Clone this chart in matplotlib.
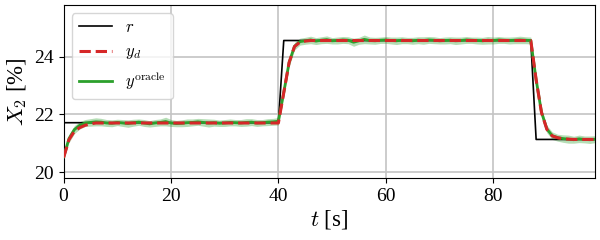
import numpy as np
import matplotlib.pyplot as plt

plt.rcParams['font.family'] = ['Liberation Serif', 'DejaVu Serif']
plt.rcParams['mathtext.fontset'] = 'cm'

# time in seconds (1 s sampling)
t = np.arange(100)

# reference r
r = [21.71] * 41 + [24.56] * 47 + [21.13] * 12

# desired output y_d
y_d = ([20.50, 21.12, 21.41, 21.54, 21.62, 21.67] + [21.70] * 35
       + [22.75, 23.80, 24.35, 24.50, 24.54, 24.56, 24.56] + [24.56] * 40
       + [23.20, 22.06, 21.48, 21.25, 21.19, 21.15, 21.14] + [21.13] * 5)

# oracle output (mean)
y_or = [20.52, 21.16, 21.47, 21.62, 21.70, 21.72,
        21.74, 21.73, 21.70, 21.69, 21.72,
        21.70, 21.68, 21.71, 21.73, 21.70,
        21.67, 21.70, 21.72, 21.75, 21.70,
        21.68, 21.69, 21.71, 21.72, 21.74,
        21.72, 21.70, 21.71, 21.69, 21.70,
        21.72, 21.71, 21.70, 21.72, 21.73,
        21.70, 21.71, 21.73, 21.74, 21.76,
        22.76, 23.80, 24.36, 24.52, 24.55, 24.58, 24.54,
        24.57, 24.59, 24.55, 24.56, 24.58,
        24.57, 24.50, 24.55, 24.60, 24.56,
        24.55, 24.57, 24.58, 24.56, 24.55,
        24.57, 24.56, 24.55, 24.57, 24.56,
        24.58, 24.57, 24.55, 24.56, 24.57,
        24.55, 24.56, 24.58, 24.57, 24.56,
        24.55, 24.57, 24.56, 24.58, 24.57,
        24.56, 24.57, 24.58, 24.57, 24.56,
        23.20, 22.07, 21.49, 21.26, 21.19, 21.16, 21.14,
        21.12, 21.15, 21.13, 21.12, 21.14]

# oracle spread (half width of shaded band)
y_sd = [0.12, 0.14, 0.14, 0.13, 0.12, 0.13,
        0.14, 0.13, 0.12, 0.12, 0.11,
        0.12, 0.13, 0.12, 0.11, 0.12,
        0.11, 0.12, 0.12, 0.15, 0.12,
        0.11, 0.12, 0.13, 0.12, 0.12,
        0.13, 0.14, 0.12, 0.11, 0.12,
        0.12, 0.11, 0.12, 0.13, 0.12,
        0.12, 0.11, 0.12, 0.12, 0.13,
        0.14, 0.14, 0.13, 0.12, 0.12, 0.13, 0.12,
        0.12, 0.13, 0.11, 0.12, 0.12,
        0.12, 0.14, 0.12, 0.15, 0.12,
        0.12, 0.11, 0.12, 0.12, 0.13,
        0.12, 0.11, 0.12, 0.12, 0.13,
        0.12, 0.12, 0.11, 0.12, 0.12,
        0.13, 0.12, 0.12, 0.11, 0.12,
        0.12, 0.13, 0.12, 0.12, 0.11,
        0.12, 0.12, 0.13, 0.12, 0.12,
        0.14, 0.14, 0.13, 0.13, 0.12, 0.13, 0.14,
        0.12, 0.13, 0.12, 0.13, 0.12]

y_or = np.array(y_or)
y_sd = np.array(y_sd)

fig = plt.figure(figsize=(6, 2.4), dpi=100)
ax = fig.add_axes([0.106, 0.258, 0.886, 0.721])

ax.plot(t, r, color='black', lw=1.2, label='$r$', zorder=3)
ax.fill_between(t, y_or - y_sd, y_or + y_sd, color='tab:green', alpha=0.35, lw=0, zorder=2)
ax.plot(t, y_or, color='tab:green', lw=2, label=r'$y^{\mathrm{oracle}}$', zorder=4)
ax.plot(t, y_d, color='tab:red', lw=2.2, ls='--', label='$y_d$', zorder=5)

ax.set_xlim(0, 99)
ax.set_ylim(19.79, 25.79)
ax.set_xticks([0, 20, 40, 60, 80])
ax.set_yticks([20, 22, 24])
ax.tick_params(labelsize=14)
ax.grid(True, color='#c4c4c4', lw=1.2)
ax.set_axisbelow(True)

ax.set_xlabel('$t$ [s]', fontsize=16.5, labelpad=2)
ax.set_ylabel('$X_2$ [%]', fontsize=16.5, labelpad=4)

h, l = ax.get_legend_handles_labels()
ax.legend([h[0], h[2], h[1]], [l[0], l[2], l[1]], loc='upper left', fontsize=12)

fig.savefig('out.png', dpi=100)
